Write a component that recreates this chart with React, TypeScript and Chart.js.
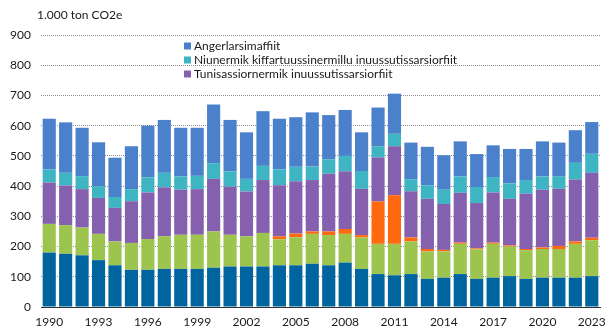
import React, { useEffect, useRef } from "react";
import { Chart, registerables } from "chart.js";

Chart.register(...registerables);

const years = Array.from({ length: 34 }, (_, i) => String(1990 + i));

const unitLabel = "1.000 ton CO2e";

const darkBlue = [180, 176, 171, 155, 138, 123, 123, 126, 126, 126, 130, 134, 134, 134, 138, 138, 143, 138, 147, 126, 109, 105, 109, 93, 97, 109, 93, 97, 102, 93, 97, 97, 97, 102];
const green = [95, 95, 92, 87, 79, 89, 102, 108, 113, 113, 120, 105, 100, 111, 86, 93, 99, 100, 95, 104, 100, 104, 108, 91, 87, 100, 98, 112, 98, 95, 95, 95, 112, 119];
const orange = [0, 0, 0, 0, 0, 0, 0, 0, 0, 0, 0, 0, 0, 0, 10, 12, 8, 12, 16, 8, 140, 161, 13, 8, 5, 4, 3, 4, 4, 4, 5, 10, 8, 8];
const purple = [137, 131, 127, 119, 111, 138, 154, 162, 149, 151, 174, 159, 148, 175, 169, 173, 170, 191, 191, 153, 146, 162, 153, 166, 152, 165, 150, 166, 154, 183, 191, 189, 205, 215];
const teal = [43, 42, 43, 39, 36, 40, 50, 48, 44, 44, 52, 51, 42, 47, 52, 48, 45, 48, 51, 59, 37, 41, 40, 44, 47, 54, 53, 51, 51, 45, 44, 42, 55, 63];
const lightBlue = [168, 167, 160, 145, 130, 142, 171, 175, 161, 159, 194, 170, 154, 181, 168, 164, 179, 146, 152, 128, 128, 133, 121, 128, 114, 116, 109, 105, 114, 103, 116, 111, 108, 105];

const legendNames = [
  "Angerlarsimaffiit",
  "Niunermik kiffartuussinermillu inuussutissarsiorfiit",
  "Tunisassiornermik inuussutissarsiorfiit",
];

const FONT = "Lato, 'Open Sans', sans-serif";

export default function App() {
  const ref = useRef<HTMLCanvasElement | null>(null);

  useEffect(() => {
    document.body.style.margin = "0";
    const canvas = ref.current;
    if (!canvas) return;

    const overlay = {
      id: "overlay",
      afterDraw(chart: any) {
        const ctx = chart.ctx;
        const area = chart.chartArea;
        ctx.save();
        ctx.font = `12px ${FONT}`;
        ctx.fillStyle = "#1a1a1a";
        ctx.textBaseline = "middle";
        ctx.textAlign = "left";
        ctx.fillText(unitLabel, area.left - 4, 15);
        const items = [
          { name: legendNames[0], ds: 5 },
          { name: legendNames[1], ds: 4 },
          { name: legendNames[2], ds: 3 },
        ];
        items.forEach((it, i) => {
          const y = 46 + i * 14;
          const col = chart.data.datasets[it.ds].backgroundColor;
          ctx.fillStyle = col;
          ctx.fillRect(184, y - 3.5, 7, 7);
          ctx.fillStyle = "#1a1a1a";
          ctx.fillText(it.name, 194, y);
        });
        ctx.restore();
      },
    };

    const mk = (label: string, data: number[], color: string) => ({
      label,
      data,
      backgroundColor: color,
      borderWidth: 0,
      barPercentage: 0.8,
      categoryPercentage: 1.0,
    });

    const chart = new Chart(canvas, {
      type: "bar",
      data: {
        labels: years,
        datasets: [
          mk("Energiforsyning", darkBlue, "#00659E"),
          mk("Transport", green, "#9CC44E"),
          mk("Øvrige", orange, "#FF6A10"),
          mk(legendNames[2], purple, "#8460AE"),
          mk(legendNames[1], teal, "#3FB5C4"),
          mk(legendNames[0], lightBlue, "#4B80CB"),
        ],
      },
      options: {
        animation: false,
        responsive: false,
        maintainAspectRatio: false,
        layout: { padding: { top: 35, right: 14, left: 0, bottom: 0 } },
        plugins: {
          legend: { display: false },
          tooltip: { enabled: false },
          title: { display: false },
        },
        scales: {
          x: {
            stacked: true,
            grid: { display: false, drawTicks: false },
            border: { display: true, color: "#333", width: 1 },
            ticks: {
              autoSkip: false,
              maxRotation: 0,
              minRotation: 0,
              padding: 8,
              color: "#1a1a1a",
              font: { family: FONT, size: 12 },
              callback: (_v: any, i: number) => (i % 3 === 0 ? years[i] : ""),
            },
            afterFit: (s: any) => {
              s.height = 28;
            },
          },
          y: {
            stacked: true,
            min: 0,
            max: 900,
            grid: {
              color: "#8C8C8C",
              drawTicks: false,
              lineWidth: 1,
            },
            border: { display: false, dash: [1, 1] },
            ticks: {
              stepSize: 100,
              padding: 10,
              color: "#1a1a1a",
              font: { family: FONT, size: 12 },
            },
            afterFit: (s: any) => {
              s.width = 41;
            },
          },
        },
      },
      plugins: [overlay],
    } as any);

    return () => chart.destroy();
  }, []);

  return <canvas ref={ref} width={614} height={335} style={{ display: "block" }} />;
}
